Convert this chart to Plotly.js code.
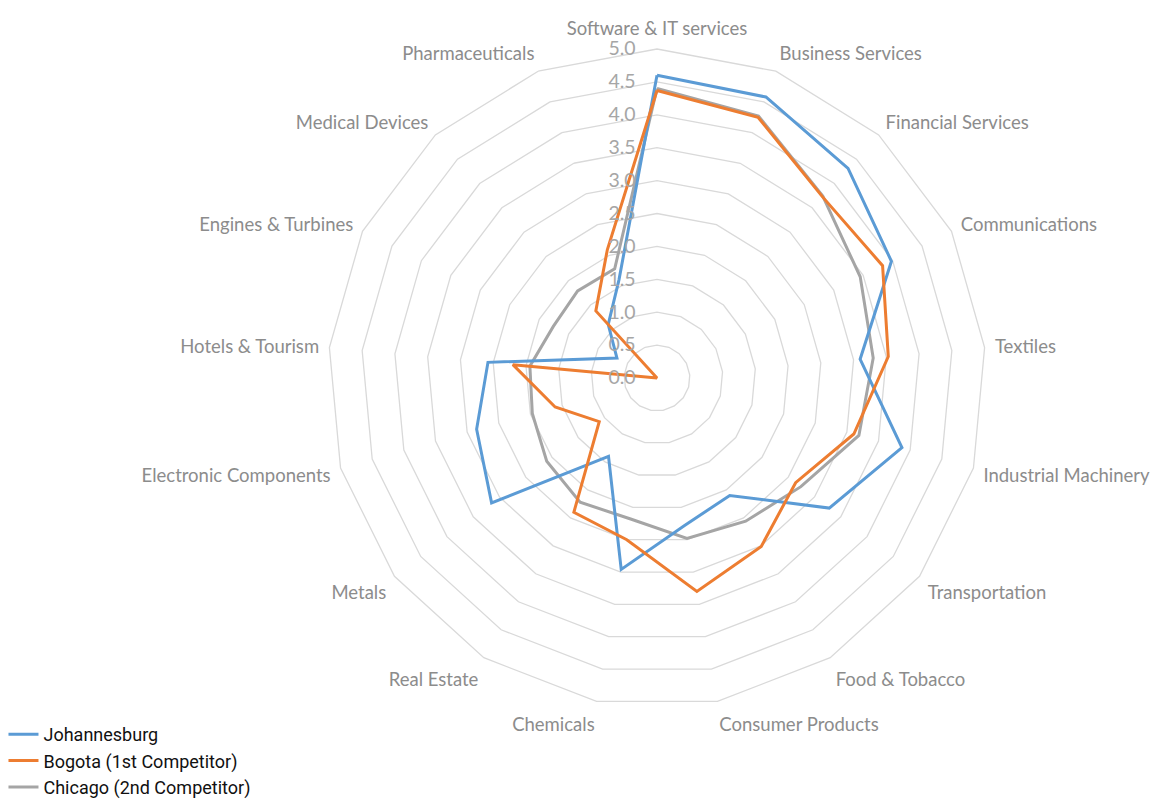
<!DOCTYPE html>
<html>
<head>
<meta charset="utf-8">
<script src="https://cdn.plot.ly/plotly-3.0.1.min.js"></script>
<style>
  html, body { margin: 0; padding: 0; background: #fff; overflow: hidden; }
  #chart { width: 1159px; height: 830px; }
</style>
</head>
<body>
<div id="chart"></div>
<script>
// categories, clockwise from the top
var categories = ["Software & IT services", "Business Services", "Financial Services", "Communications",
  "Textiles", "Industrial Machinery", "Transportation", "Food & Tobacco", "Consumer Products",
  "Chemicals", "Real Estate", "Metals", "Electronic Components", "Hotels & Tourism",
  "Engines & Turbines", "Medical Devices", "Pharmaceuticals"];

var johannesburg = [4.6, 4.58, 4.31, 3.98, 3.1, 3.87, 3.28, 2.1, 2.28, 2.96, 1.4, 3.15, 2.85, 2.58, 0.68, 1.1, 1.6];
var bogota       = [4.37, 4.25, 3.73, 3.83, 3.53, 3.11, 2.64, 3.01, 3.3, 2.5, 2.4, 1.1, 1.61, 2.2, 0, 1.38, 2.09];
var chicago      = [4.4, 4.27, 3.74, 3.45, 3.3, 3.19, 2.74, 2.56, 2.48, 2.18, 2.22, 2.1, 1.97, 1.94, 1.76, 1.79, 1.78];

var radialTicks = [0, 0.5, 1, 1.5, 2, 2.5, 3, 3.5, 4, 4.5, 5];

function closed(a) { return a.concat([a[0]]); }

function series(name, vals, color, rank) {
  return { type: "scatterpolar", mode: "lines", name: name, legendrank: rank,
    r: closed(vals), theta: closed(categories),
    line: { color: color, width: 3 }, hoverinfo: "name+r+theta" };
}

// chicago first so it sits underneath the other two
var traces = [
  series("Chicago (2nd Competitor)", chicago, "#a5a5a5", 3),
  series("Johannesburg", johannesburg, "#5b9bd5", 1),
  series("Bogota (1st Competitor)", bogota, "#ed7d31", 2)
];

// plot a bit taller than the window so the legend can sit low without pushing the margins
var W = 1159, H = 830, cx = 657, cy = 378, R = 329;

var layout = {
  width: W, height: H,
  margin: { t: 0, r: 0, b: 0, l: 0 },
  paper_bgcolor: "#fff",
  font: { family: "Lato, 'Open Sans', sans-serif", color: "#8c8c8c" },
  showlegend: true,
  legend: { x: 0.003, y: (H - 716) / H, xanchor: "left", yanchor: "top", orientation: "v",
    font: { family: "Roboto, sans-serif", size: 18, color: "#111" },
    itemwidth: 30, tracegroupgap: 0, bgcolor: "rgba(0,0,0,0)" },
  polar: {
    domain: { x: [(cx - R) / W, (cx + R) / W], y: [(H - cy - R) / H, (H - cy + R) / H] },
    gridshape: "linear",
    bgcolor: "#fff",
    angularaxis: { rotation: 90, direction: "clockwise", showgrid: false, showline: true,
      linecolor: "#d9d9d9", linewidth: 1.3, ticks: "outside", ticklen: 6, tickcolor: "rgba(0,0,0,0)",
      tickfont: { size: 18.5, color: "#8c8c8c", family: "Lato, 'Open Sans', sans-serif" } },
    radialaxis: { range: [0, 5], tickvals: radialTicks, tickformat: ".1f", angle: 90, tickangle: 90,
      side: "counterclockwise", showline: false, ticks: "outside", ticklen: 14, tickcolor: "rgba(0,0,0,0)",
      gridcolor: "#d9d9d9", gridwidth: 1.3,
      tickfont: { size: 19.5, color: "#a6a6a6", family: "Lato, 'Open Sans', sans-serif" } }
  }
};

Plotly.newPlot("chart", traces, layout, { displayModeBar: false, staticPlot: true });
</script>
</body>
</html>
